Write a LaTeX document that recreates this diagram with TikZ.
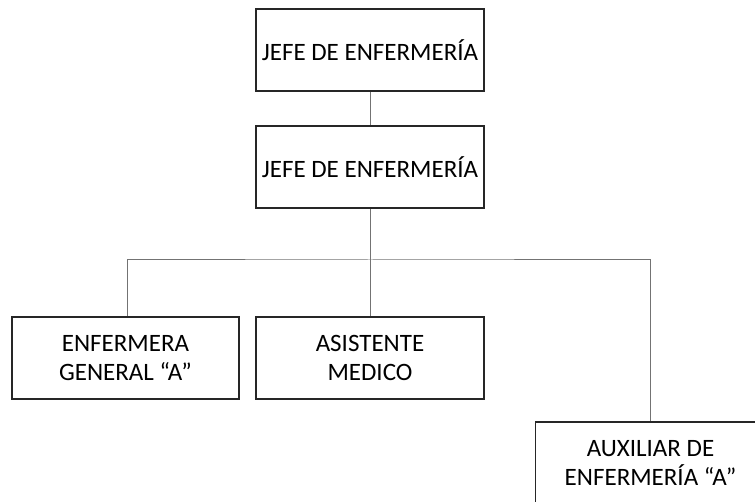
\documentclass[tikz,border=0pt]{standalone}
\usepackage{fontspec}
\setmainfont{Carlito}
\begin{document}
\begin{tikzpicture}[x=1pt,y=-1pt,
  orgbox/.style={draw=black!85, line width=1.6pt, fill=white, minimum width=228pt,
    minimum height=82pt, align=center, inner sep=0pt,
    font=\fontsize{25}{29}\selectfont},
  link/.style={draw=black!55, line width=1pt}]
  \useasboundingbox (0,0) rectangle (755,502);
  % two head positions
  \node[orgbox] (jefeA) at (370,50) {JEFE DE ENFERMERÍA};
  \node[orgbox] (jefeB) at (370,167) {JEFE DE ENFERMERÍA};
  % staff row
  \node[orgbox, minimum width=227pt] (enf) at (125.5,358) {ENFERMERA\\GENERAL “A”};
  \node[orgbox] (asis) at (370,358) {ASISTENTE\\MEDICO};
  \node[orgbox, minimum width=230pt] (aux) at (650.5,463) {AUXILIAR DE\\ENFERMERÍA “A”};
  % shared horizontal bus
  \coordinate (bus) at (370,260);
  \draw[link] (jefeA.south) -- (jefeB.north);
  \draw[link] (jefeB.south) -- (asis.north);
  \draw[link] (enf.north -| 127,0) |- (bus) -| (aux.north);
\end{tikzpicture}
\end{document}
